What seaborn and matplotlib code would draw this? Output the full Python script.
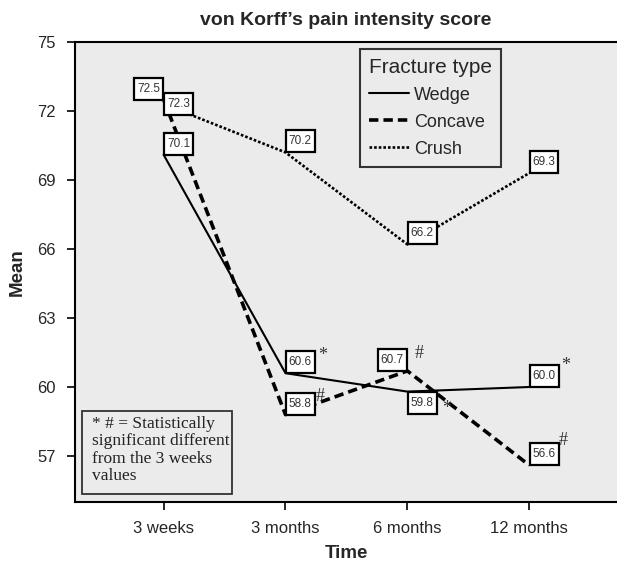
import numpy as np
import pandas as pd
import matplotlib
matplotlib.use("Agg")
import matplotlib.pyplot as plt
import seaborn as sns
from matplotlib.patches import Rectangle
from matplotlib.path import Path

# ---------------- data ----------------
times = ["3 weeks", "3 months", "6 months", "12 months"]
fracture_types = ["Wedge", "Concave", "Crush"]
wedge = [70.1, 60.6, 59.8, 60.0]
concave = [72.5, 58.8, 60.7, 56.6]
crush = [72.3, 70.2, 66.2, 69.3]
wedge_marks = ["", "*", "*", "*"]
concave_marks = ["", "#", "#", "#"]
crush_marks = ["", "", "", ""]
y_ticks = [57, 60, 63, 66, 69, 72, 75]
note_text = "* # = Statistically\nsignificant different\nfrom the 3 weeks\nvalues"

series = {"Wedge": wedge, "Concave": concave, "Crush": crush}
marks = {"Wedge": wedge_marks, "Concave": concave_marks, "Crush": crush_marks}

df = pd.DataFrame(
    [{"Time": times.index(t), "Mean": v, "Fracture type": name}
     for name in fracture_types for t, v in zip(times, series[name])]
)

# ---------------- style ----------------
sns.set_theme(style="ticks")
plt.rcParams["font.family"] = ["Liberation Sans", "DejaVu Sans"]

fig = plt.figure(figsize=(6.17, 5.62), dpi=100)
ax = fig.add_axes([75 / 617, 1 - 502 / 562, 542 / 617, 460 / 562])
ax.set_facecolor("#ebebeb")

dashes = {"Wedge": "", "Concave": (2.6, 1.4), "Crush": (1.0, 0.75)}
sns.lineplot(data=df, x="Time", y="Mean", style="Fracture type",
             style_order=fracture_types, dashes=dashes, color="black",
             errorbar=None, legend=False, ax=ax, sort=False)

lws = {"Wedge": 1.5, "Concave": 2.6, "Crush": 1.9}
for line, name in zip(ax.lines, fracture_types):
    line.set_linewidth(lws[name])
    line.set_label(name)

# ---------------- axes ----------------
ax.set_xlim(-0.727, 3.72)
ax.set_ylim(55, 75)
ax.set_xticks(range(len(times)))
ax.set_xticklabels(times, fontsize=12)
ax.set_yticks(y_ticks)
ax.set_yticklabels([str(v) for v in y_ticks], fontsize=12)
ax.tick_params(axis="both", length=6, width=1.2, color="black", direction="out", pad=8)
for s in ["left", "bottom", "top"]:
    ax.spines[s].set_color("black")
    ax.spines[s].set_linewidth(1.5)
ax.spines["right"].set_visible(False)
ax.set_xlabel("Time", fontsize=13.5, fontweight="bold", labelpad=6)
ax.set_ylabel("Mean", fontsize=13.5, fontweight="bold", labelpad=8)
ax.set_title("von Korff\u2019s pain intensity score", fontsize=14,
             fontweight="bold", pad=12)

# ---------------- value labels ----------------
LABEL_FS = 8.5
PADX, PADY = 0.25, 0.42


def label_box(x0, y0, width, height, mutation_size):
    px = PADX * mutation_size
    py = PADY * mutation_size
    x0, y0 = x0 - px, y0 - py
    x1, y1 = x0 + width + 2 * px, y0 + height + 2 * py
    return Path([(x0, y0), (x1, y0), (x1, y1), (x0, y1), (x0, y0)],
                [Path.MOVETO, Path.LINETO, Path.LINETO, Path.LINETO, Path.CLOSEPOLY])


ox_pt = PADX * LABEL_FS + 0.3
oy_pt = PADY * LABEL_FS
# which corner of the box sits on the point: (ha, va, sign_x, sign_y)
place = {
    "Wedge": [("left", "bottom", 1, 1), ("left", "bottom", 1, 1),
              ("left", "top", 1, -1), ("left", "bottom", 1, 1)],
    "Concave": [("right", "bottom", -1, 1), ("left", "bottom", 1, 1),
                ("right", "bottom", -1, 1), ("left", "bottom", 1, 1)],
    "Crush": [("left", "center", 1, 0), ("left", "bottom", 1, 1),
              ("left", "bottom", 1, 1), ("left", "bottom", 1, 1)],
}
mark_off = {
    "Wedge": [None, (27, 12.5), (28, -12.2), (26, 15.4)],
    "Concave": [None, (25, 12.7), (8.6, 12.2), (24.5, 18)],
    "Crush": [None, None, None, None],
}
for name in fracture_types:
    for i, v in enumerate(series[name]):
        ha, va, sx, sy = place[name][i]
        ax.annotate(f"{v:.1f}", xy=(i, v), xytext=(sx * ox_pt, sy * oy_pt),
                    textcoords="offset points", ha=ha, va=va, fontsize=LABEL_FS,
                    color="#333333", zorder=5,
                    bbox=dict(boxstyle=label_box, fc="white",
                              ec="black", lw=1.6))
        m = marks[name][i]
        if m:
            mx, my = mark_off[name][i]
            ax.annotate(m, xy=(i, v), xytext=(mx, my), textcoords="offset points",
                        ha="center", va="center", fontsize=13,
                        family=["Liberation Serif", "DejaVu Serif"],
                        color="#333333", zorder=6)

# ---------------- legend ----------------
leg = ax.legend(handles=ax.lines[:3], labels=fracture_types,
                title="Fracture type", loc="upper left",
                bbox_to_anchor=(0.526, 0.985), fontsize=13,
                title_fontsize=15, frameon=True, fancybox=False,
                handlelength=2.2, handletextpad=0.3, labelspacing=0.55,
                borderpad=0.5, borderaxespad=0, alignment="left")
leg.get_frame().set_facecolor("#ebebeb")
leg.get_frame().set_edgecolor("#333333")
leg.get_frame().set_linewidth(1.5)
leg.get_frame().set_alpha(1)
leg._legend_box.sep = 7

# ---------------- note box ----------------
ax.add_patch(Rectangle((0.0129, 0.0174), 0.2768, 0.1806, transform=ax.transAxes,
                       fc="#ebebeb", ec="#333333", lw=1.3, zorder=4))
ax.text(0.031, 0.187, note_text, transform=ax.transAxes, ha="left", va="top",
        fontsize=12.5, family=["Liberation Serif", "DejaVu Serif"],
        color="#222222", linespacing=1.12, zorder=5)

fig.savefig("out.png", dpi=100)
